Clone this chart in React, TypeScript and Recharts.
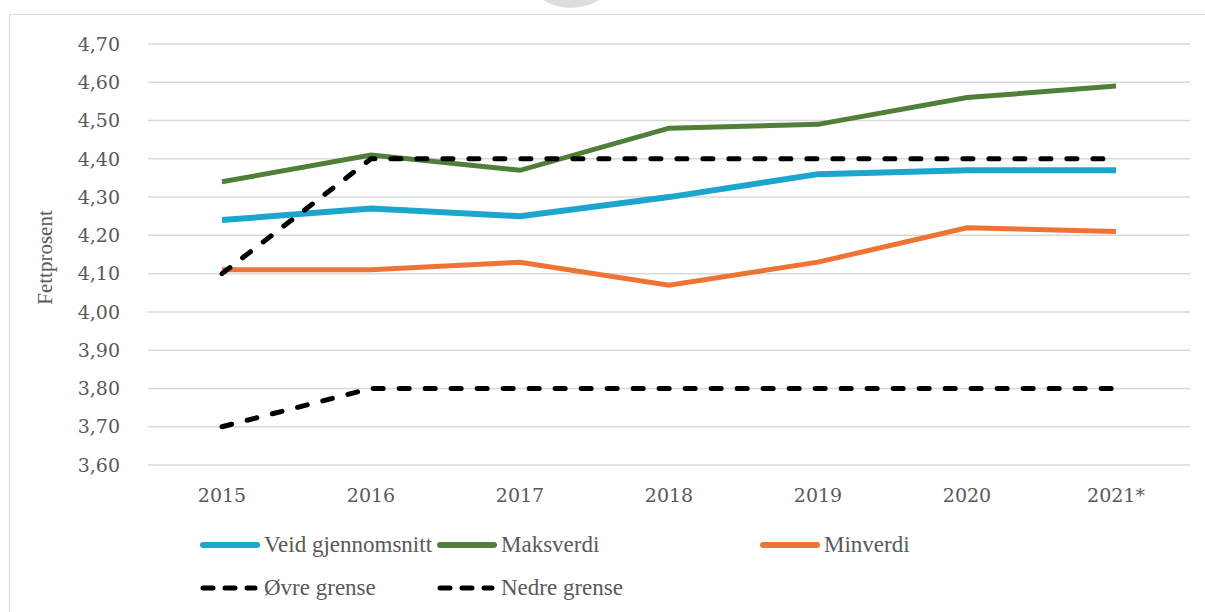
import React from 'react';
import { LineChart, Line, XAxis, YAxis, CartesianGrid } from 'recharts';

const years = ['2015', '2016', '2017', '2018', '2019', '2020', '2021*'];
const veid = [4.24, 4.27, 4.25, 4.3, 4.36, 4.37, 4.37];
const maks = [4.34, 4.41, 4.37, 4.48, 4.49, 4.56, 4.59];
const minv = [4.11, 4.11, 4.13, 4.07, 4.13, 4.22, 4.21];
const ovre = [4.1, 4.4, 4.4, 4.4, 4.4, 4.4, 4.4];
const nedre = [3.7, 3.8, 3.8, 3.8, 3.8, 3.8, 3.8];
const yTicks = [3.6, 3.7, 3.8, 3.9, 4.0, 4.1, 4.2, 4.3, 4.4, 4.5, 4.6, 4.7];

const data = years.map((year, i) => ({
  year,
  veid: veid[i],
  maks: maks[i],
  minv: minv[i],
  ovre: ovre[i],
  nedre: nedre[i],
}));

const BLUE = '#1ca6cd';
const GREEN = '#4f7f39';
const ORANGE = '#ee7433';
const DASH = '10 16';
const tickStyle = { fontSize: 19, fill: '#595959', fontFamily: 'DejaVu Serif' };

const fmt = (v: number) => v.toFixed(2).replace('.', ',');

function LegendItem({ x, y, color, dashed, label }: { x: number; y: number; color: string; dashed?: boolean; label: string }) {
  return (
    <div style={{ position: 'absolute', left: x, top: y - 15, height: 30, display: 'flex', alignItems: 'center' }}>
      <svg width={60} height={10} style={{ marginRight: 4 }}>
        <line
          x1={3}
          y1={5}
          x2={dashed ? 55 : 57}
          y2={5}
          stroke={color}
          strokeWidth={dashed ? 5 : 6}
          strokeLinecap="round"
          strokeDasharray={dashed ? '10 12' : undefined}
        />
      </svg>
      <span style={{ fontFamily: 'Liberation Serif', fontSize: 23, color: '#595959', whiteSpace: 'nowrap' }}>{label}</span>
    </div>
  );
}

export default function App() {
  return (
    <div style={{ position: 'absolute', left: 0, top: 0, width: 1205, height: 612, background: '#fff', overflow: 'hidden' }}>
      <div style={{ position: 'absolute', left: 523, top: -80, width: 96, height: 88, borderRadius: '50%', background: '#dddddd' }} />
      <div style={{ position: 'absolute', left: 9, top: 14, width: 1220, height: 640, border: '1px solid #d9d9d9', boxSizing: 'border-box' }} />
      <div style={{ position: 'absolute', left: 0, top: 0 }}>
        <LineChart width={1205} height={612} data={data} margin={{ top: 44, right: 15, left: 88, bottom: 97 }}>
          <CartesianGrid vertical={false} stroke="#d9d9d9" strokeWidth={1.5} />
          <XAxis
            dataKey="year"
            axisLine={false}
            tickLine={false}
            tick={tickStyle}
            tickMargin={18}
            height={50}
            padding={{ left: 74, right: 74 }}
          />
          <YAxis
            domain={[3.6, 4.7]}
            ticks={yTicks}
            axisLine={false}
            tickLine={false}
            tick={tickStyle}
            tickFormatter={fmt}
            tickMargin={22}
            width={60}
            label={{
              value: 'Fettprosent',
              content: ({ viewBox }: any) => {
                const cy = viewBox.y + viewBox.height / 2 + 3;
                return (
                  <text
                    x={45}
                    y={cy}
                    transform={`rotate(-90, 45, ${cy})`}
                    textAnchor="middle"
                    dominantBaseline="central"
                    fontFamily="Liberation Serif"
                    fontSize={21}
                    fill="#595959"
                  >
                    Fettprosent
                  </text>
                );
              },
            }}
          />
          <Line dataKey="maks" stroke={GREEN} strokeWidth={5} dot={false} isAnimationActive={false} type="linear" />
          <Line dataKey="veid" stroke={BLUE} strokeWidth={6} dot={false} isAnimationActive={false} type="linear" />
          <Line dataKey="minv" stroke={ORANGE} strokeWidth={5} dot={false} isAnimationActive={false} type="linear" />
          <Line dataKey="ovre" stroke="#000" strokeWidth={5} strokeDasharray={DASH} strokeLinecap="round" dot={false} isAnimationActive={false} type="linear" />
          <Line dataKey="nedre" stroke="#000" strokeWidth={5} strokeDasharray={DASH} strokeLinecap="round" dot={false} isAnimationActive={false} type="linear" />
        </LineChart>
      </div>
      <LegendItem x={200} y={545} color={BLUE} label="Veid gjennomsnitt" />
      <LegendItem x={437} y={545} color={GREEN} label="Maksverdi" />
      <LegendItem x={760} y={545} color={ORANGE} label="Minverdi" />
      <LegendItem x={200} y={588} color="#000" dashed label="Øvre grense" />
      <LegendItem x={437} y={588} color="#000" dashed label="Nedre grense" />
    </div>
  );
}
